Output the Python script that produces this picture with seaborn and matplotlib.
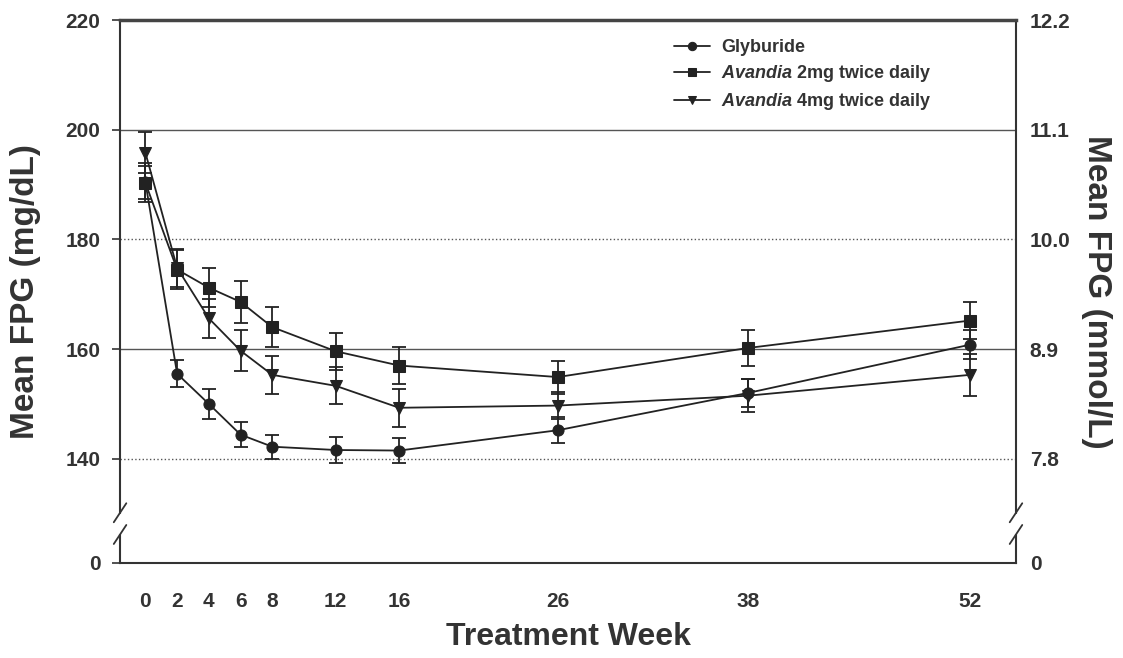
import numpy as np
import pandas as pd
import matplotlib.pyplot as plt
import seaborn as sns

# values
weeks = [0, 2, 4, 6, 8, 12, 16, 26, 38, 52]
glyburide = [190.4, 155.5, 150.0, 144.4, 142.2, 141.6, 141.5, 145.2, 152.0, 160.8]
glyburide_err = [3.5, 2.5, 2.7, 2.3, 2.2, 2.3, 2.3, 2.4, 2.5, 2.6]
avandia_2mg = [190.3, 174.5, 171.2, 168.6, 164.0, 159.6, 157.0, 154.9, 160.2, 165.2]
avandia_2mg_err = [3.0, 3.6, 3.6, 3.8, 3.6, 3.4, 3.3, 3.0, 3.3, 3.4]
avandia_4mg = [195.8, 174.8, 165.6, 159.7, 155.3, 153.3, 149.3, 149.7, 151.5, 155.3]
avandia_4mg_err = [3.7, 3.5, 3.5, 3.7, 3.5, 3.4, 3.5, 2.5, 3.0, 3.8]

groups = ["Glyburide", "Avandia 2mg twice daily", "Avandia 4mg twice daily"]
legend_labels = ["Glyburide", r"$\it{Avandia}$ 2mg twice daily", r"$\it{Avandia}$ 4mg twice daily"]
left_ticks = [140, 160, 180, 200, 220]
right_labels = ["7.8", "8.9", "10.0", "11.1", "12.2"]

df = pd.DataFrame({
    "week": weeks * 3,
    "fpg": glyburide + avandia_2mg + avandia_4mg,
    "err": glyburide_err + avandia_2mg_err + avandia_4mg_err,
    "group": np.repeat(groups, len(weeks)),
})

sns.set_style("white")
plt.rcParams["font.family"] = ["Liberation Sans", "DejaVu Sans"]
plt.rcParams["font.weight"] = "bold"
plt.rcParams["mathtext.fontset"] = "custom"
plt.rcParams["mathtext.it"] = "Liberation Sans:italic:bold"
plt.rcParams["mathtext.rm"] = "Liberation Sans:bold"

fig = plt.figure(figsize=(11.23, 6.58), dpi=100)
ax = fig.add_axes([0.1069, 0.1444, 0.7978, 0.8252])

ymin = 121
markers = {"Glyburide": "o", "Avandia 2mg twice daily": "s", "Avandia 4mg twice daily": "v"}
sns.lineplot(data=df, x="week", y="fpg", style="group", markers=markers, dashes=False,
             color="#222222", linewidth=1.3, markersize=8, markeredgecolor="#222222",
             ax=ax, legend=True)
for g in groups:
    sub = df[df["group"] == g]
    ax.errorbar(sub["week"], sub["fpg"], yerr=sub["err"], fmt="none", ecolor="#222222",
                elinewidth=1.3, capsize=5, capthick=1.3, zorder=1)

# gridlines
for yv, ls in zip([140, 160, 180, 200], [":", "-", ":", "-"]):
    ax.axhline(yv, color="#555555", lw=1.0, ls=ls, zorder=0)

ax.set_xlim(-1.6, 54.9)
ax.set_ylim(ymin, 220)
ax.set_xticks(weeks)
ax.set_xticklabels([str(w) for w in weeks], fontsize=15, fontweight="bold", color="#333333")
ax.set_yticks([ymin] + left_ticks)
ax.set_yticklabels(["0"] + [str(t) for t in left_ticks], fontsize=15, fontweight="bold", color="#333333")
ax.tick_params(axis="x", direction="out", length=9, width=1.2, pad=12, colors="#333333")
ax.tick_params(axis="y", direction="out", length=6, width=1.2, pad=8, colors="#333333")
ax.set_xlabel("Treatment Week", fontsize=23, fontweight="bold", color="#333333", labelpad=8)
ax.set_ylabel("Mean FPG (mg/dL)", fontsize=24, fontweight="bold", color="#333333", labelpad=18)

for s in ["left", "right", "bottom"]:
    ax.spines[s].set_linewidth(1.5)
    ax.spines[s].set_color("#333333")
ax.spines["top"].set_linewidth(2.5)
ax.spines["top"].set_color("#444444")

ax2 = ax.twinx()
ax2.set_ylim(ymin, 220)
ax2.set_yticks([ymin] + left_ticks)
ax2.set_yticklabels(["0"] + right_labels, fontsize=15, fontweight="bold", color="#333333")
ax2.tick_params(axis="y", direction="out", length=0, pad=10, colors="#333333")
ax2.set_ylabel("Mean FPG (mmol/L)", fontsize=24, fontweight="bold", color="#333333",
               rotation=-90, labelpad=30)
for s in ax2.spines.values():
    s.set_visible(False)

# axis break marks
for xa in [0.0, 1.0]:
    ax.add_patch(plt.Rectangle((xa - 0.01, 0.055), 0.02, 0.035, transform=ax.transAxes,
                               color="white", clip_on=False, zorder=5))
    for y0 in [0.035, 0.075]:
        ax.plot([xa - 0.007, xa + 0.007], [y0, y0 + 0.035], transform=ax.transAxes,
                color="#333333", lw=1.3, clip_on=False, zorder=6)

handles, _ = ax.get_legend_handles_labels()
leg = ax.legend(handles[-3:], legend_labels, loc="upper left", bbox_to_anchor=(0.6, 0.995),
                frameon=False, fontsize=13, handlelength=2.0, handletextpad=0.6, labelspacing=0.4)
for h in leg.legend_handles:
    h.set_markersize(6)
for t in leg.get_texts():
    t.set_fontweight("bold")
    t.set_color("#333333")

fig.savefig("out.png", dpi=100)
